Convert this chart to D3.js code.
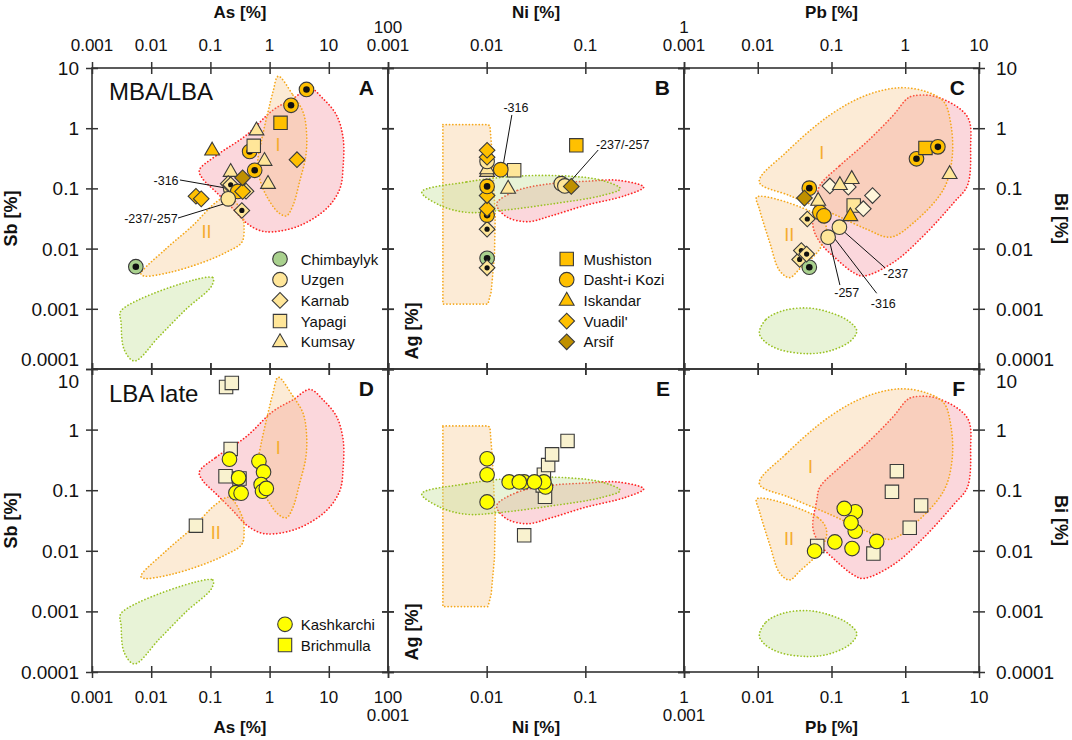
<!DOCTYPE html>
<html><head><meta charset="utf-8">
<script src="https://cdn.jsdelivr.net/npm/d3@7"></script>
<style>body{margin:0;background:#fff} svg{display:block} text{font-family:"Liberation Sans",Arial,sans-serif;fill:#111}</style>
</head><body><svg id="c" width="1072" height="740"></svg>
<script>
// ---------------- DATA ----------------
const asTicks = [0.001, 0.01, 0.1, 1, 10, 100];
const niTicks = [0.001, 0.01, 0.1, 1];
const pbTicks = [0.001, 0.01, 0.1, 1, 10];
const yTicks  = [0.0001, 0.001, 0.01, 0.1, 1, 10];

const siteNames  = ['Chimbaylyk','Uzgen','Karnab','Yapagi','Kumsay','Mushiston','Dasht-i Kozi','Iskandar',"Vuadil'",'Arsif','Kashkarchi','Brichmulla'];
const legendA = ['Chimbaylyk','Uzgen','Karnab','Yapagi','Kumsay'];
const legendB = ['Mushiston','Dasht-i Kozi','Iskandar',"Vuadil'",'Arsif'];
const legendD = ['Kashkarchi','Brichmulla'];

// [site, x, y, flag]  flag: d = inner dot, p = pale
const pointsA = [
 ['Chimbaylyk',0.0055,0.005,'d'],
 ['Kumsay',0.22,0.19,''],
 ['Uzgen',0.22,0.1,''],
 ['Karnab',0.2,0.12,''],
 ['Karnab',0.22,0.115,'d'],
 ['Karnab',0.4,0.09,''],
 ['Dasht-i Kozi',0.29,0.089,''],
 ["Vuadil'",0.35,0.089,''],
 ['Uzgen',0.2,0.067,''],
 ['Karnab',0.34,0.043,'d'],
 ['Arsif',0.35,0.15,''],
 ["Vuadil'",0.057,0.074,''],
 ["Vuadil'",0.07,0.067,''],
 ['Kumsay',0.94,0.12,''],
 ['Kumsay',0.82,0.29,''],
 ['Dasht-i Kozi',0.56,0.2,'d'],
 ['Dasht-i Kozi',0.46,0.41,'d'],
 ['Yapagi',0.54,0.51,''],
 ['Kumsay',0.6,0.93,''],
 ['Iskandar',0.107,0.43,''],
 ['Mushiston',1.53,1.23,''],
 ['Dasht-i Kozi',2.3,2.4,'d'],
 ['Dasht-i Kozi',4.2,4.4,'d'],
 ["Vuadil'",2.9,0.30,'']
];
const pointsB = [
 ['Chimbaylyk',0.0101,0.0069,'d'],
 ['Karnab',0.0101,0.0048,'d'],
 ['Karnab',0.0101,0.021,'d'],
 ['Dasht-i Kozi',0.0101,0.036,'d'],
 ["Vuadil'",0.0101,0.046,''],
 ["Vuadil'",0.0101,0.076,''],
 ['Dasht-i Kozi',0.0101,0.108,'d'],
 ['Kumsay',0.0101,0.19,''],
 ['Kumsay',0.0101,0.21,''],
 ['Uzgen',0.0101,0.28,''],
 ["Vuadil'",0.0101,0.33,''],
 ["Vuadil'",0.0101,0.43,''],
 ['Kumsay',0.0165,0.1,''],
 ['Yapagi',0.019,0.2,''],
 ['Dasht-i Kozi',0.0139,0.205,''],
 ['Mushiston',0.081,0.52,''],
 ['Uzgen',0.057,0.12,''],
 ['Uzgen',0.062,0.11,''],
 ['Arsif',0.072,0.108,'']
];
const pointsC = [
 ['Chimbaylyk',0.05,0.0049,'d'],
 ['Karnab',0.037,0.0066,'d'],
 ['Karnab',0.039,0.0093,'d'],
 ['Karnab',0.046,0.0081,'d'],
 ['Karnab',0.047,0.031,'d'],
 ['Uzgen',0.09,0.0155,''],
 ['Uzgen',0.128,0.0227,''],
 ['Dasht-i Kozi',0.0695,0.04,''],
 ['Dasht-i Kozi',0.079,0.035,''],
 ['Kumsay',0.066,0.063,''],
 ['Dasht-i Kozi',0.05,0.101,'d'],
 ['Arsif',0.043,0.069,''],
 ['Karnab',0.095,0.11,'p'],
 ['Karnab',0.169,0.105,'p'],
 ['Kumsay',0.13,0.115,''],
 ['Kumsay',0.188,0.145,''],
 ['Karnab',0.36,0.076,'p'],
 ['Yapagi',0.2,0.052,''],
 ['Karnab',0.27,0.046,'p'],
 ['Iskandar',0.18,0.035,''],
 ['Dasht-i Kozi',1.42,0.31,'d'],
 ['Mushiston',1.88,0.47,''],
 ['Dasht-i Kozi',2.77,0.49,'d'],
 ['Kumsay',4.0,0.175,'']
];
const pointsD = [
 ['Brichmulla',0.184,5.05,'p'],
 ['Brichmulla',0.23,5.9,'p'],
 ['Brichmulla',0.22,0.48,'p'],
 ['Brichmulla',0.18,0.17,'p'],
 ['Brichmulla',0.31,0.156,'p'],
 ['Brichmulla',0.057,0.026,'p'],
 ['Kashkarchi',0.21,0.325,''],
 ['Kashkarchi',0.30,0.16,''],
 ['Kashkarchi',0.27,0.091,''],
 ['Kashkarchi',0.33,0.089,''],
 ['Kashkarchi',0.66,0.30,''],
 ['Kashkarchi',0.79,0.20,''],
 ['Kashkarchi',0.72,0.124,''],
 ['Kashkarchi',0.76,0.096,''],
 ['Kashkarchi',0.88,0.107,'']
];
const pointsE = [
 ['Brichmulla',0.024,0.018,'p'],
 ['Brichmulla',0.039,0.078,'p'],
 ['Brichmulla',0.037,0.12,'p'],
 ['Brichmulla',0.038,0.18,'p'],
 ['Brichmulla',0.042,0.26,'p'],
 ['Brichmulla',0.046,0.39,'p'],
 ['Brichmulla',0.066,0.65,'p'],
 ['Kashkarchi',0.0101,0.33,''],
 ['Kashkarchi',0.0101,0.18,''],
 ['Kashkarchi',0.0101,0.064,''],
 ['Kashkarchi',0.0169,0.137,''],
 ['Kashkarchi',0.024,0.137,''],
 ['Kashkarchi',0.0214,0.137,''],
 ['Kashkarchi',0.0395,0.113,''],
 ['Kashkarchi',0.038,0.137,''],
 ['Kashkarchi',0.0305,0.137,'']
];
const pointsF = [
 ['Brichmulla',0.77,0.206,'p'],
 ['Brichmulla',0.66,0.094,'p'],
 ['Brichmulla',1.64,0.056,'p'],
 ['Brichmulla',1.15,0.024,'p'],
 ['Brichmulla',0.37,0.009,'p'],
 ['Brichmulla',0.064,0.012,'p'],
 ['Kashkarchi',0.21,0.044,''],
 ['Kashkarchi',0.149,0.05,''],
 ['Kashkarchi',0.21,0.021,''],
 ['Kashkarchi',0.184,0.029,''],
 ['Kashkarchi',0.111,0.014,''],
 ['Kashkarchi',0.19,0.0109,''],
 ['Kashkarchi',0.41,0.0143,''],
 ['Kashkarchi',0.059,0.0099,'']
];

// Reference fields (vertices, data units)
const fieldRed_AsSb = [[0.065,0.2],[0.125,0.35],[0.40,0.76],[1.14,2.0],[2.48,3.1],[4.8,4.6],[8.0,3.1],[13.5,1.65],[17.5,0.67],[17.5,0.24],[15.4,0.099],[9.1,0.046],[3.2,0.024],[1.14,0.019],[0.68,0.02],[0.40,0.027],[0.24,0.046],[0.125,0.087],[0.074,0.145]];
const fieldI_AsSb = [[1.4,7.3],[2.48,3.55],[3.67,1.87],[4.2,0.87],[4.1,0.35],[3.2,0.128],[2.48,0.052],[1.92,0.035],[1.4,0.04],[0.88,0.076],[0.68,0.145],[0.63,0.27],[0.72,0.59],[0.94,1.87],[1.14,4.0]];
const fieldII_AsSb = [[0.0067,0.0038],[0.0177,0.0099],[0.05,0.024],[0.125,0.059],[0.21,0.076],[0.35,0.035],[0.37,0.024],[0.34,0.0128],[0.185,0.0087],[0.074,0.0059],[0.02,0.004],[0.0076,0.0035]];
const fieldGreen_AsSb = [[0.0031,0.00093],[0.11,0.0033],[0.105,0.0024],[0.039,0.00099],[0.0137,0.00035],[0.0052,0.000136],[0.0035,0.00021],[0.0031,0.00059]];

const fieldRed_NiAg = [[0.0128,0.059],[0.0206,0.093],[0.045,0.12],[0.099,0.131],[0.217,0.136],[0.39,0.105],[0.254,0.076],[0.099,0.052],[0.045,0.035],[0.026,0.028],[0.0163,0.033],[0.0128,0.049]];
const fieldI_NiAg = [[0.0036,1.15],[0.0103,1.15],[0.0108,1.09],[0.0114,0.35],[0.0122,0.035],[0.012,0.0076],[0.0111,0.0019],[0.0103,0.0012],[0.0036,0.0012]];
const fieldGreen_NiAg = [[0.0022,0.087],[0.0063,0.128],[0.0206,0.16],[0.067,0.16],[0.147,0.136],[0.226,0.099],[0.147,0.076],[0.045,0.055],[0.0139,0.043],[0.0063,0.040],[0.0034,0.052]];

const fieldRed_PbBi = [[0.0695,0.112],[0.13,0.24],[0.30,0.59],[0.69,1.65],[1.06,3.1],[1.30,3.46],[2.7,3.3],[6.97,1.55],[7.7,0.46],[6.97,0.112],[4.6,0.059],[1.78,0.0165],[0.69,0.0059],[0.27,0.0035],[0.198,0.004],[0.117,0.0067],[0.0695,0.0128],[0.056,0.024],[0.063,0.067]];
const fieldI_PbBi = [[0.0105,0.128],[0.0244,0.40],[0.095,1.65],[0.30,3.55],[0.86,4.7],[1.98,4.0],[3.34,2.75],[4.1,1.28],[4.35,0.35],[3.34,0.099],[1.30,0.027],[0.63,0.0155],[0.30,0.021],[0.095,0.04],[0.027,0.076]];
const fieldII_PbBi = [[0.0097,0.072],[0.066,0.035],[0.086,0.021],[0.0695,0.0099],[0.037,0.0046],[0.027,0.0033],[0.0198,0.0043],[0.0145,0.0128],[0.0105,0.046]];
const fieldGreen_PbBi = [[0.0105,0.0004],[0.013,0.00067],[0.022,0.00093],[0.048,0.00103],[0.095,0.00087],[0.169,0.00063],[0.22,0.00043],[0.18,0.00029],[0.095,0.0002],[0.048,0.00018],[0.0198,0.00021],[0.0123,0.00029]];

// field names [label, x, y]
const fieldTextA = [['I',1.39,0.53],['II',0.086,0.019]];
const fieldTextD = [['I',1.4,0.49],['II',0.123,0.0197]];
const fieldTextC = [['I',0.074,0.38],['II',0.0268,0.0168]];
const fieldTextF = [['I',0.052,0.244],['II',0.0266,0.0155]];

// sample annotations [text, textX, textY, lineX1, lineY1, lineX2, lineY2]
const notesA = [['-316',0.029,0.137,0.0306,0.138,0.198,0.1],['-237/-257',0.028,0.0322,0.0284,0.0322,0.177,0.056]];
const notesB = [['-316',0.0198,2.17,0.018,1.66,0.0148,0.26],['-237/-257',0.128,0.526,0.135,0.434,0.07,0.129]];
const notesC = [['-257',0.161,0.00188,0.130,0.00248,0.0955,0.01225],['-316',0.504,0.00123,0.41,0.00181,0.108,0.0152],['-237',0.745,0.00389,0.53,0.00482,0.148,0.0191]];

// ---------------- STYLES ----------------
const siteShape = {'Chimbaylyk':'circle','Uzgen':'circle','Karnab':'diamond','Yapagi':'square','Kumsay':'triangle','Mushiston':'square','Dasht-i Kozi':'circle','Iskandar':'triangle',"Vuadil'":'diamond','Arsif':'diamond','Kashkarchi':'circle','Brichmulla':'square'};
const siteFill = {'Chimbaylyk':'#A9D18E','Uzgen':'#FFE699','Karnab':'#FFE699','Yapagi':'#FFE699','Kumsay':'#FFE699','Mushiston':'#FFC000','Dasht-i Kozi':'#FFC000','Iskandar':'#FFC000',"Vuadil'":'#FFC000','Arsif':'#BF9000','Kashkarchi':'#FFFF00','Brichmulla':'#FFFF00'};
const paleFill = {'Karnab':'#FFF6DA','Brichmulla':'#F9F2CF'};

const fieldStyle = {
  red:  {fill:'rgba(240,110,130,0.28)', stroke:'#FF2424'},
  I:    {fill:'rgba(245,190,120,0.30)', stroke:'#F5A81C'},
  II:   {fill:'rgba(245,190,120,0.30)', stroke:'#F5A81C'},
  green:{fill:'rgba(190,220,140,0.35)', stroke:'#9AC224'}
};

const svg = d3.select('#c');
const colX = [92, 388, 684, 979];
const rowY = [68, 369, 672];
const fAsSb = {red:fieldRed_AsSb, I:fieldI_AsSb, II:fieldII_AsSb, green:fieldGreen_AsSb};
const fNiAg = {red:fieldRed_NiAg, I:fieldI_NiAg, green:fieldGreen_NiAg};
const fPbBi = {red:fieldRed_PbBi, I:fieldI_PbBi, II:fieldII_PbBi, green:fieldGreen_PbBi};

const panels = [
 {id:'A',c:0,r:0,xd:[1e-3,100],xt:asTicks,pts:pointsA,fields:fAsSb,ft:fieldTextA,notes:notesA,legend:legendA},
 {id:'B',c:1,r:0,xd:[1e-3,1],xt:niTicks,pts:pointsB,fields:fNiAg,ft:[],notes:notesB,legend:legendB},
 {id:'C',c:2,r:0,xd:[1e-3,10],xt:pbTicks,pts:pointsC,fields:fPbBi,ft:fieldTextC,notes:notesC},
 {id:'D',c:0,r:1,xd:[1e-3,100],xt:asTicks,pts:pointsD,fields:fAsSb,ft:fieldTextD,notes:[],legend:legendD},
 {id:'E',c:1,r:1,xd:[1e-3,1],xt:niTicks,pts:pointsE,fields:fNiAg,ft:[],notes:[]},
 {id:'F',c:2,r:1,xd:[1e-3,10],xt:pbTicks,pts:pointsF,fields:fPbBi,ft:fieldTextF,notes:[]}
];

function marker(g, site, cx, cy, fill, dot){
  const shape = siteShape[site];
  let p;
  if(shape==='circle'){
    p = g.append('circle').attr('cx',cx).attr('cy',cy).attr('r',7.3);
  } else {
    const sym = shape==='triangle' ? d3.symbolTriangle : d3.symbolSquare;
    const size = {square:180, triangle:95, diamond:122}[shape];
    p = g.append('path').attr('d', d3.symbol(sym,size)())
      .attr('transform',`translate(${cx},${cy})`+(shape==='diamond'?' rotate(45)':'')+(shape==='triangle'?' translate(0,0.5)':''));
  }
  p.attr('fill',fill).attr('stroke','#3a3a3a').attr('stroke-width',1.1);
  if(dot) g.append('circle').attr('cx',cx).attr('cy',cy).attr('r',shape==='diamond'?2.6:3.3).attr('fill','#111');
}

const fmt = v => String(v);

panels.forEach(P=>{
  const x0=colX[P.c], x1=colX[P.c+1], y0=rowY[P.r], y1=rowY[P.r+1];
  const x = d3.scaleLog().domain(P.xd).range([x0,x1]);
  const y = d3.scaleLog().domain([1e-4,10]).range([y1,y0]);
  const g = svg.append('g');
  const cid = 'clip'+P.id;
  svg.append('clipPath').attr('id',cid).append('rect').attr('x',x0).attr('y',y0).attr('width',x1-x0).attr('height',y1-y0);
  const fg = g.append('g').attr('clip-path',`url(#${cid})`);
  ['red','I','II','green'].forEach(k=>{
    const pts = P.fields[k]; if(!pts) return;
    const curve = (P.id==='B'||P.id==='E') && k==='I' ? d3.curveLinearClosed : d3.curveCatmullRomClosed.alpha(0.5);
    const line = d3.line().x(d=>x(d[0])).y(d=>y(d[1])).curve(curve);
    fg.append('path').attr('d',line(pts)).attr('fill',fieldStyle[k].fill)
      .attr('stroke',fieldStyle[k].stroke).attr('stroke-width',1.7)
      .attr('stroke-dasharray','0.1 3.2').attr('stroke-linecap','round');
  });
  P.ft.forEach(t=>{
    fg.append('text').attr('x',x(t[1])).attr('y',y(t[2])+6).attr('text-anchor','middle')
      .style('font-size','18px').style('fill','#F5AC2E').text(t[0]);
  });
  // notes
  P.notes.forEach(n=>{
    g.append('line').attr('x1',x(n[3])).attr('y1',y(n[4])).attr('x2',x(n[5])).attr('y2',y(n[6]))
      .attr('stroke','#111').attr('stroke-width',1);
  });
  // points
  const pg = g.append('g');
  P.pts.forEach(d=>{
    const fill = d[3]==='p' ? paleFill[d[0]] : siteFill[d[0]];
    marker(pg, d[0], x(d[1]), y(d[2]), fill, d[3]==='d');
  });
  P.notes.forEach(n=>{
    const anchor = P.id==='A' ? 'end' : (P.id==='B' && n[0]==='-237/-257' ? 'start' : 'middle');
    g.append('text').attr('x',x(n[1])).attr('y',y(n[2])+4.5).attr('text-anchor',anchor)
      .style('font-size','12.5px').text(n[0]);
  });
  // frame
  g.append('rect').attr('x',x0).attr('y',y0).attr('width',x1-x0).attr('height',y1-y0)
    .attr('fill','none').attr('stroke','#333').attr('stroke-width',1.6);
  // ticks through axes (crossing)
  const mk = (axis, tx, ty) => {
    const a = g.append('g').attr('transform',`translate(${tx},${ty})`).call(axis);
    a.select('.domain').remove();
    a.selectAll('text').remove();
    return a;
  };
  const bx = mk(d3.axisBottom(x).tickValues(P.xt).tickSize(6), 0, y1);
  bx.selectAll('.tick line').attr('y1',-6).attr('y2',6).attr('stroke','#333').attr('stroke-width',1.5);
  const tx = mk(d3.axisTop(x).tickValues(P.xt).tickSize(6), 0, y0);
  tx.selectAll('.tick line').attr('y1',-6).attr('y2',6).attr('stroke','#333').attr('stroke-width',1.5);
  const ly = mk(d3.axisLeft(y).tickValues(yTicks).tickSize(6), x0, 0);
  ly.selectAll('.tick line').attr('x1',-6).attr('x2',6).attr('stroke','#333').attr('stroke-width',1.5);
  const ry = mk(d3.axisRight(y).tickValues(yTicks).tickSize(6), x1, 0);
  ry.selectAll('.tick line').attr('x1',-6).attr('x2',6).attr('stroke','#333').attr('stroke-width',1.5);

  // outer tick labels
  const n = P.xt.length;
  if(P.r===0){
    P.xt.forEach((v,i)=>{
      const up = (i===n-1 && P.c<2);
      svg.append('text').attr('x',x(v)).attr('y', up?33:51).attr('text-anchor','middle')
        .style('font-size','17px').text(fmt(v));
    });
  } else {
    P.xt.forEach((v,i)=>{
      const down = (i===0 && P.c>0);
      svg.append('text').attr('x',x(v)).attr('y', down?721:703).attr('text-anchor','middle')
        .style('font-size','17px').text(fmt(v));
    });
  }
  if(P.c===0 || P.c===2){
    yTicks.forEach(v=>{
      let yy = y(v)+7;
      if(P.r===0 && v===1e-4) yy -= 10;
      if(P.r===1 && v===10) yy += 12;
      svg.append('text').attr('x', P.c===0 ? 79 : 996).attr('y',yy)
        .attr('text-anchor', P.c===0?'end':'start').style('font-size','19px').text(fmt(v));
    });
  }
  // panel letter
  svg.append('text').attr('x',x1-14).attr('y',y0+27).attr('text-anchor','end')
    .style('font-size','21px').style('font-weight','bold').text(P.id);
  // legend
  if(P.legend){
    const lx = P.id==='B' ? 566.7 : (P.id==='D' ? 285 : 280);
    const ly0 = P.id==='D' ? 624.3 : 259;
    const tx0 = P.id==='B' ? 583.5 : 300.7;
    P.legend.forEach((s,i)=>{
      const yy = ly0 + i*20.7;
      marker(svg, s, lx, yy, siteFill[s], false);
      svg.append('text').attr('x',tx0).attr('y',yy+5.5).style('font-size','15px').text(s);
    });
  }
  // Ag label inside B/E
  if(P.c===1){
    svg.append('text').attr('transform',`translate(418,${P.r===0?331:632}) rotate(-90)`)
      .attr('text-anchor','middle').style('font-size','18px').style('font-weight','bold').text('Ag [%]');
  }
});

// titles
const titlesX = ['As [%]','Ni [%]','Pb [%]'];
titlesX.forEach((t,i)=>{
  const cx = (colX[i]+colX[i+1])/2;
  svg.append('text').attr('x',cx).attr('y',18).attr('text-anchor','middle').style('font-size','17px').style('font-weight','bold').text(t);
  svg.append('text').attr('x',cx).attr('y',733).attr('text-anchor','middle').style('font-size','17px').style('font-weight','bold').text(t);
});
[0,1].forEach(r=>{
  const cy = (rowY[r]+rowY[r+1])/2;
  svg.append('text').attr('transform',`translate(17,${cy}) rotate(-90)`).attr('text-anchor','middle')
    .style('font-size','18px').style('font-weight','bold').text('Sb [%]');
  svg.append('text').attr('transform',`translate(1055,${cy}) rotate(90)`).attr('text-anchor','middle')
    .style('font-size','18px').style('font-weight','bold').text('Bi [%]');
});
svg.append('text').attr('x',109).attr('y',100).style('font-size','24px').text('MBA/LBA');
svg.append('text').attr('x',109).attr('y',402).style('font-size','24px').text('LBA late');
</script></body></html>
